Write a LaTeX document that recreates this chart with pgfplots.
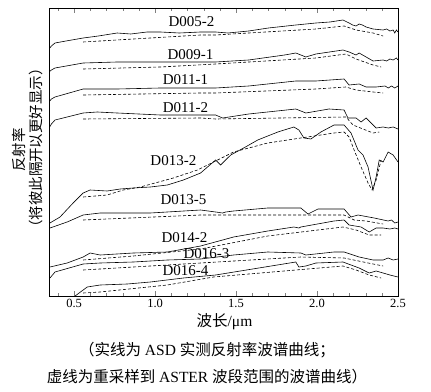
\documentclass[border=0pt]{standalone}
\usepackage{fontspec}
\setmainfont{Liberation Serif}
\newfontfamily\cjk{Noto Sans CJK SC}
\usepackage{pgfplots}
\pgfplotsset{compat=1.18}
\tikzset{
  sol/.style={black, line width=0.6pt},
  das/.style={black, line width=0.6pt, dash pattern=on 3pt off 2pt},
  lab/.style={font=\fontsize{15}{15}\selectfont, inner sep=0pt},
}
\begin{document}
\begin{tikzpicture}
\path[use as bounding box] (-49pt,-95pt) rectangle (382pt,296pt);
\begin{axis}[
  at={(0pt,0pt)}, anchor=south west,
  scale only axis, width=349pt, height=288pt,
  xmin=0.345, xmax=2.5, ymin=0, ymax=288,
  ytick=\empty,
  xtick={0.5,1.0,1.5,2.0,2.5},
  minor xtick={0.4,0.6,0.7,0.8,0.9,1.1,1.2,1.3,1.4,1.6,1.7,1.8,1.9,2.1,2.2,2.3,2.4},
  major tick length=5pt, minor tick length=3pt,
  /pgf/number format/assume math mode=true,
  xticklabel={\pgfmathprintnumber[fixed,fixed zerofill,precision=1]{\tick}},
  xticklabel style={font=\fontsize{12.5}{12.5}\selectfont},
  xlabel={{\cjk 波长}/μm},
  xlabel style={at={(rel axis cs:0.5,0)}, anchor=center, xshift=1pt, yshift=-26pt, font=\fontsize{15.5}{15.5}\selectfont},
]
% D005-2
\addplot[sol] coordinates {(0.345,247)(0.36,250)(0.382,253)(0.45,255)(0.556,258)(0.65,260)(0.766,263)(0.85,262)(0.95,264)(1.033,264)(1.15,263)(1.281,264)(1.374,264)(1.45,263)(1.578,265)(1.7,268)(1.869,271)(1.993,273)(2.08,274)(2.160,276)(2.198,273)(2.22,271)(2.241,270)(2.26,272)(2.28,271)(2.303,269)(2.346,267)(2.408,266)(2.43,267)(2.45,265)(2.47,266)(2.48,263)(2.49,266)(2.50,264)};
\addplot[das] coordinates {(0.556,254)(1.281,261)(1.374,261)(1.578,263)(1.993,267)(2.167,270)(2.241,266)(2.346,263)(2.408,260)};
% D009-1
\addplot[sol] coordinates {(0.345,224)(0.36,226)(0.382,228)(0.556,233)(0.766,234)(1.033,234)(1.281,234)(1.374,234)(1.578,236)(1.8,241)(1.869,243)(1.931,239)(1.993,242)(2.160,246)(2.198,244)(2.241,241)(2.260,243)(2.303,239)(2.346,235)(2.408,236)(2.43,235)(2.45,237)(2.47,236)(2.49,238)(2.50,236)};
\addplot[das] coordinates {(0.556,227)(1.033,229)(1.374,232)(1.993,238)(2.179,242)(2.241,237)(2.346,231)(2.396,229)};
% D011-1
\addplot[sol] coordinates {(0.345,194)(0.36,197)(0.382,199)(0.556,207)(0.766,207)(1.033,208)(1.281,208)(1.374,208)(1.578,210)(1.869,215)(1.993,215)(2.167,217)(2.198,211)(2.260,212)(2.303,209)(2.365,209)(2.42,210)(2.44,208)(2.46,210)(2.48,208)(2.50,210)};
\addplot[das] coordinates {(0.556,201)(1.281,203)(1.374,203)(1.993,207)(2.179,209)(2.241,206)(2.346,204)(2.408,203)};
% D011-2
\addplot[sol] coordinates {(0.345,168)(0.36,172)(0.382,176)(0.556,183)(0.643,184)(0.766,183)(1.033,181)(1.281,181)(1.374,181)(1.417,178)(1.578,182)(1.869,187)(1.931,183)(2.074,187)(2.167,186)(2.191,178)(2.241,178)(2.272,174)(2.303,178)(2.365,168)(2.408,169)(2.44,168)(2.47,169)(2.50,167)};
\addplot[das] coordinates {(0.556,177)(1.281,178)(1.374,177)(2.179,179)(2.222,171)(2.346,163)(2.384,164)};
% D013-2
\addplot[sol] coordinates {(0.351,73)(0.413,79)(0.494,93)(0.556,103)(0.599,106)(0.704,105)(0.785,107)(0.866,108)(0.971,109)(1.076,111)(1.175,116)(1.281,123)(1.374,136)(1.405,131)(1.423,134)(1.467,141)(1.547,148)(1.634,156)(1.758,164)(1.857,169)(1.888,166)(1.919,158)(1.962,157)(2.024,164)(2.105,171)(2.167,171)(2.210,163)(2.253,146)(2.284,141)(2.315,129)(2.346,106)(2.365,119)(2.384,136)(2.408,134)(2.439,144)(2.470,141)(2.50,134)};
\addplot[das] coordinates {(0.556,99)(0.704,101)(0.804,106)(0.909,109)(1.113,118)(1.262,126)(1.386,136)(1.485,144)(1.696,153)(1.900,158)(2.105,163)(2.167,164)(2.198,159)(2.229,146)(2.272,129)(2.315,113)(2.340,106)(2.365,116)(2.396,136)};
% D013-5
\addplot[sol] coordinates {(0.351,68)(0.457,74)(0.556,81)(0.661,83)(0.971,83)(1.281,86)(1.374,84)(1.417,83)(1.436,84)(1.485,85)(1.696,88)(1.900,88)(1.944,82)(2.006,87)(2.167,87)(2.210,79)(2.253,81)(2.353,78)(2.439,75)(2.46,76)(2.48,73)(2.50,74)};
\addplot[das] coordinates {(0.556,76)(1.281,81)(1.900,81)(2.167,81)(2.229,76)(2.303,75)(2.408,72)};
% D014-2
\addplot[sol] coordinates {(0.351,29)(0.457,33)(0.556,39)(0.599,43)(0.661,41)(0.866,43)(1.076,44)(1.281,50)(1.485,59)(1.696,65)(1.857,69)(1.888,68)(1.900,69)(2.105,75)(2.167,76)(2.198,71)(2.272,69)(2.322,64)(2.365,68)(2.408,68)(2.45,67)(2.48,68)(2.50,67)};
\addplot[das] coordinates {(0.556,36)(0.866,40)(1.281,47)(1.696,60)(2.160,69)(2.241,66)(2.322,61)(2.396,61)};
% D016-3
\addplot[sol] coordinates {(0.351,18)(0.382,24)(0.556,32)(0.661,33)(0.866,34)(1.076,36)(1.281,37)(1.485,41)(1.696,44)(1.900,43)(1.931,41)(2.105,44)(2.167,44)(2.260,39)(2.346,36)(2.408,36)(2.439,38)(2.47,36)(2.50,37)};
\addplot[das] coordinates {(0.556,26)(1.281,33)(1.900,39)(2.167,38)(2.346,32)(2.408,30)};
% D016-4
\addplot[sol] coordinates {(0.506,0)(0.581,9)(0.661,11)(0.828,12)(0.971,14)(1.175,18)(1.374,21)(1.869,34)(1.888,29)(1.931,30)(1.993,33)(2.160,34)(2.260,28)(2.322,23)(2.365,25)(2.408,23)(2.45,21)(2.50,19)};
\addplot[das] coordinates {(0.556,3)(0.661,4)(1.076,11)(1.361,19)(2.160,30)(2.241,26)(2.322,21)(2.396,18)};
% labels
\node[lab] at (axis cs:1.225,274) {D005-2};
\node[lab] at (axis cs:1.219,241) {D009-1};
\node[lab] at (axis cs:1.188,216) {D011-1};
\node[lab] at (axis cs:1.188,188) {D011-2};
\node[lab] at (axis cs:1.113,135) {D013-2};
\node[lab] at (axis cs:1.175,96) {D013-5};
\node[lab] at (axis cs:1.182,58) {D014-2};
\node[lab] at (axis cs:1.318,42) {D016-3};
\node[lab] at (axis cs:1.188,25) {D016-4};
\end{axis}
\node[rotate=90, font=\cjk\fontsize{14.5}{14.5}\selectfont, inner sep=0pt] at (-30pt,146pt) {反射率};
\node[rotate=90, font=\cjk\fontsize{14.5}{14.5}\selectfont, inner sep=0pt] at (-13pt,148pt) {（将彼此隔开以更好显示）};
\node[font=\fontsize{15.5}{15.5}\selectfont, inner sep=0pt] at (158pt,-54pt) {{\cjk （实线为} ASD {\cjk 实测反射率波谱曲线；}};
\node[font=\fontsize{15.5}{15.5}\selectfont, inner sep=0pt] at (158pt,-81pt) {{\cjk 虚线为重采样到} ASTER {\cjk 波段范围的波谱曲线）}};
\end{tikzpicture}
\end{document}
